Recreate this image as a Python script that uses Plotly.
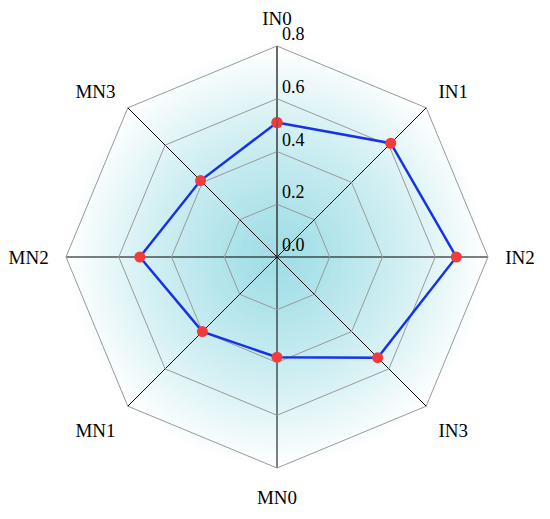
import numpy as np
import plotly.graph_objects as go

# chart data
categories = ['IN0', 'IN1', 'IN2', 'IN3', 'MN0', 'MN1', 'MN2', 'MN3']
values = [0.51, 0.61, 0.68, 0.54, 0.38, 0.40, 0.52, 0.41]
radial_ticks = [0.0, 0.2, 0.4, 0.6, 0.8]
radial_labels = ['0.0', '0.2', '0.4', '0.6', '0.8']

r_max = radial_ticks[-1]
serif = 'Liberation Serif'
full = dict(x=[0, 1], y=[0, 1])

fig = go.Figure()

# radial gradient backdrop on its own subplot (stacked disks, largest first)
n_steps = 45
circle_theta = np.linspace(0, 360, 181)
inner = np.array([160, 222, 230])
outer = np.array([255, 255, 255])
for k in range(n_steps, 0, -1):
    t = k / n_steps
    c = inner + (outer - inner) * t ** 1.3
    fig.add_trace(go.Scatterpolar(
        r=np.full(circle_theta.size, r_max * t), theta=circle_theta,
        mode='lines', line=dict(width=0), fill='toself',
        fillcolor='rgb(%d,%d,%d)' % tuple(c.round()),
        hoverinfo='skip', showlegend=False, subplot='polar'))

# data series
fig.add_trace(go.Scatterpolar(
    r=values + values[:1], theta=categories + categories[:1],
    mode='lines+markers',
    line=dict(color='#1733e6', width=2.5),
    marker=dict(color='#f23c3c', size=11),
    showlegend=False, subplot='polar2'))

fig.update_layout(
    width=550, height=519,
    margin=dict(l=58, r=70, t=38, b=59),
    paper_bgcolor='white',
    polar=dict(
        domain=full, bgcolor='white',
        radialaxis=dict(range=[0, r_max], visible=False),
        angularaxis=dict(visible=False, direction='clockwise', rotation=90),
    ),
    polar2=dict(
        domain=full, gridshape='linear', bgcolor='rgba(0,0,0,0)',
        radialaxis=dict(range=[0, r_max], tickvals=radial_ticks,
                        # blank second line lifts each label above its ring
                        ticktext=[s + '<br> ' for s in radial_labels],
                        angle=90, tickangle=90,
                        showline=True, linecolor='#555555', linewidth=1,
                        ticks='outside', ticklen=1,
                        tickcolor='rgba(0,0,0,0)', gridcolor='#999999',
                        gridwidth=1,
                        tickfont=dict(family=serif, size=18, color='black')),
        angularaxis=dict(type='category', categoryarray=categories,
                         direction='clockwise', rotation=90,
                         gridcolor='black', gridwidth=1.2,
                         showline=True, linecolor='#999999', linewidth=1,
                         ticks='outside', ticklen=13,
                         tickcolor='rgba(0,0,0,0)',
                         tickfont=dict(family=serif, size=19, color='black')),
    ),
)

fig.write_html('out.html')
